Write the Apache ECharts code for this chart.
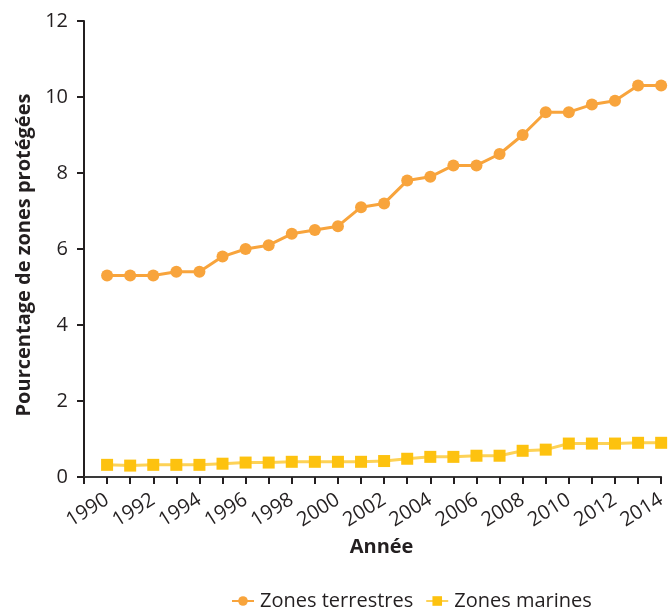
<!DOCTYPE html>
<html>
<head>
<meta charset="utf-8">
<script src="https://cdn.jsdelivr.net/npm/echarts@6/dist/echarts.min.js"></script>
<style>
  html, body { margin: 0; padding: 0; background: #ffffff; }
  #chart { width: 669px; height: 608px; }
</style>
</head>
<body>
<div id="chart"></div>
<script>
// Years on the horizontal axis
const years = [1990, 1991, 1992, 1993, 1994, 1995, 1996, 1997, 1998, 1999, 2000, 2001,
  2002, 2003, 2004, 2005, 2006, 2007, 2008, 2009, 2010, 2011, 2012, 2013, 2014];

// Share of protected terrestrial areas (%)
const terrestres = [5.3, 5.3, 5.3, 5.4, 5.4, 5.8, 6.0, 6.1, 6.4, 6.5, 6.6, 7.1,
  7.2, 7.8, 7.9, 8.2, 8.2, 8.5, 9.0, 9.6, 9.6, 9.8, 9.9, 10.3, 10.3];

// Share of protected marine areas (%)
const marines = [0.32, 0.30, 0.32, 0.32, 0.32, 0.35, 0.38, 0.38, 0.40, 0.40, 0.40, 0.40,
  0.42, 0.48, 0.53, 0.53, 0.56, 0.56, 0.69, 0.72, 0.88, 0.88, 0.88, 0.90, 0.90];

// Y-axis tick values
const yTicks = [0, 2, 4, 6, 8, 10, 12];

const seriesNames = ['Zones terrestres', 'Zones marines'];
const FONT = '"Open Sans", "DejaVu Sans", sans-serif';
const INK = '#231f20';

const toPairs = (vals) => years.map((y, i) => [y, vals[i]]);

const chart = echarts.init(document.getElementById('chart'), null, { renderer: 'canvas' });

chart.setOption({
  backgroundColor: '#ffffff',
  animation: false,
  grid: { left: 84, right: 7, top: 21, bottom: 131, containLabel: false },
  legend: {
    top: 586,
    left: 226,
    itemWidth: 22,
    itemHeight: 12,
    itemGap: 12,
    textStyle: { fontFamily: FONT, fontSize: 20, color: INK, padding: [0, 0, 0, 1] },
    data: seriesNames
  },
  xAxis: {
    type: 'value',
    min: years[0] - 1,
    max: years[years.length - 1],
    interval: 1,
    name: 'Année',
    nameLocation: 'middle',
    nameGap: 58,
    nameTextStyle: { fontFamily: FONT, fontSize: 20, fontWeight: 'bold', color: INK, padding: [0, 0, 0, 18] },
    axisLine: { lineStyle: { color: '#3a3a3a', width: 2 } },
    axisTick: { show: true, length: 7, lineStyle: { color: INK, width: 2 } },
    splitLine: { show: false },
    axisLabel: {
      rotate: 32,
      margin: 21,
      fontFamily: FONT,
      fontSize: 20,
      color: INK,
      padding: [0, 0, 0, 0],
      showMinLabel: true,
      showMaxLabel: true,
      formatter: (v) => (v >= years[0] && v % 2 === 0) ? String(v) : ''
    }
  },
  yAxis: {
    type: 'value',
    min: yTicks[0],
    max: yTicks[yTicks.length - 1],
    interval: yTicks[1] - yTicks[0],
    name: 'Pourcentage de zones protégées',
    nameLocation: 'middle',
    nameGap: 47,
    nameTextStyle: { fontFamily: FONT, fontSize: 20, fontWeight: 'bold', color: INK, padding: [0, 12, 0, 0] },
    axisLine: { show: true, lineStyle: { color: INK, width: 2 } },
    axisTick: { show: true, length: 7, lineStyle: { color: INK, width: 2 } },
    splitLine: { show: false },
    axisLabel: { margin: 16, fontFamily: FONT, fontSize: 20, color: INK }
  },
  series: [
    {
      name: seriesNames[0],
      type: 'line',
      data: toPairs(terrestres),
      symbol: 'circle',
      symbolSize: 12,
      itemStyle: { color: '#f8a43c' },
      lineStyle: { color: '#f8a43c', width: 3 },
      z: 3
    },
    {
      name: seriesNames[1],
      type: 'line',
      data: toPairs(marines),
      symbol: 'rect',
      symbolSize: 12,
      itemStyle: { color: '#fdc20f' },
      lineStyle: { color: '#fdd257', width: 3 },
      z: 2
    }
  ]
});
</script>
</body>
</html>
